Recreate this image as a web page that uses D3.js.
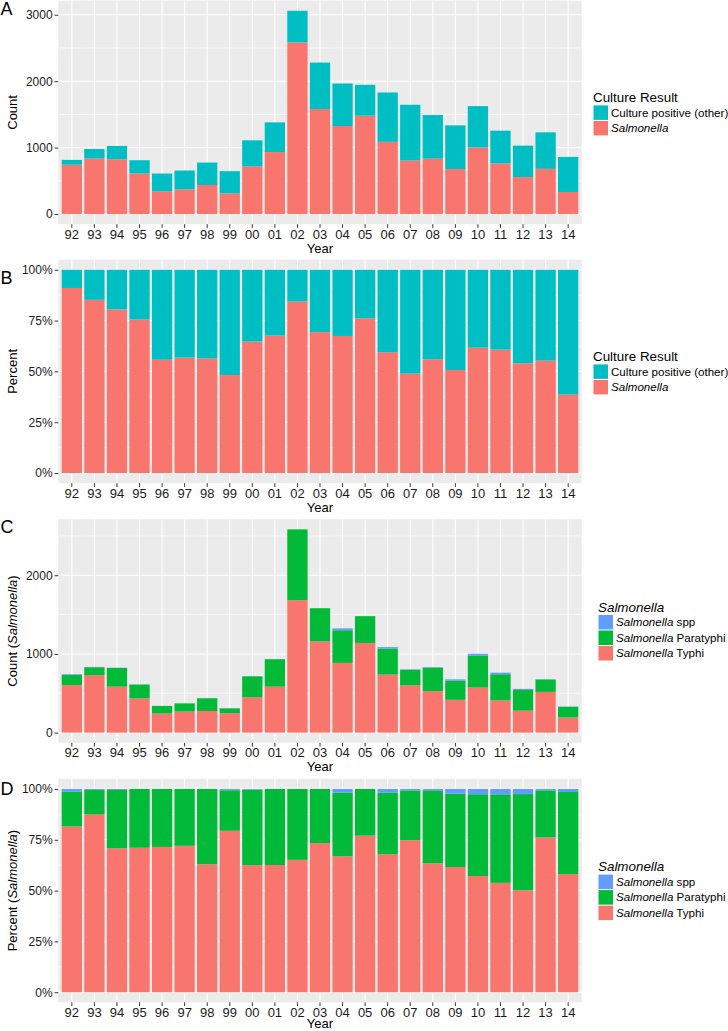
<!DOCTYPE html>
<html>
<head>
<meta charset="utf-8">
<script src="https://cdn.jsdelivr.net/npm/d3@7"></script>
<style>
  body { margin: 0; background: #fff; }
  svg { font-family: "Liberation Sans", Arial, Helvetica, sans-serif; }
</style>
</head>
<body>
<svg id="chart" width="728" height="1031"></svg>
<script>
// years on the x axis
var years = ['92', '93', '94', '95', '96', '97', '98', '99', '00', '01', '02',
  '03', '04', '05', '06', '07', '08', '09', '10', '11', '12', '13', '14'];

// panel A / B: culture results
var salmonella = [742, 835, 825, 612, 340, 372, 437, 311, 718, 933, 2583,
  1581, 1325, 1480, 1087, 805, 833, 677, 1002, 762, 556, 680, 332];
var otherPositive = [73, 145, 200, 198, 270, 283, 338, 334, 392, 447, 477,
  699, 640, 465, 743, 840, 657, 658, 623, 493, 474, 550, 528];

// panel C / D: salmonella serovars
var typhi = [605, 730, 584, 435, 243, 268, 275, 247, 449, 584, 1682,
  1160, 886, 1140, 738, 602, 528, 417, 573, 410, 279, 518, 193];
var paratyphi = [127, 101, 237, 177, 97, 104, 162, 62, 267, 349, 901,
  421, 415, 340, 329, 197, 297, 244, 403, 332, 263, 157, 134];
var spp = [10, 4, 4, 0, 0, 0, 0, 2, 2, 0, 0,
  0, 24, 0, 20, 6, 8, 16, 26, 20, 14, 5, 5];

var countTicks = [0, 1000, 2000, 3000];
var countMinor = [500, 1500, 2500];
var pctTicks = [0, 0.25, 0.5, 0.75, 1];
var pctMinor = [0.125, 0.375, 0.625, 0.875];

var colors = {
  salm: '#F8766D', other: '#00BFC4',
  typhi: '#F8766D', para: '#00BA38', spp: '#619CFF'
};

var svg = d3.select('#chart');
var left = 58.3, right = 581.7, ph = 223.6;

var x = d3.scaleBand()
  .domain(years)
  .range([left, right])
  .paddingInner(0.1)
  .paddingOuter(0.15);

var rowsA = years.map(function(yr, i) {
  return { year: yr, salm: salmonella[i], other: otherPositive[i] };
});
var rowsC = years.map(function(yr, i) {
  return { year: yr, typhi: typhi[i], para: paratyphi[i], spp: spp[i] };
});

function panel(cfg) {
  var g = svg.append('g');
  var top = cfg.top, bottom = cfg.top + ph;

  var stack = d3.stack().keys(cfg.keys);
  if (cfg.percent) stack.offset(d3.stackOffsetExpand);
  var series = stack(cfg.rows);

  var max = cfg.percent ? 1 : d3.max(series[series.length - 1], function(d) { return d[1]; });
  var pad = max * 0.05;
  var y = d3.scaleLinear().domain([-pad, max + pad]).range([bottom, top]);

  g.append('rect')
    .attr('x', left).attr('y', top)
    .attr('width', right - left).attr('height', ph)
    .attr('fill', '#EBEBEB');

  var minor = cfg.percent ? pctMinor : countMinor.filter(function(v) { return v < max + pad; });
  var major = cfg.percent ? pctTicks : countTicks.filter(function(v) { return v < max + pad; });

  g.selectAll('.minor').data(minor).enter().append('line')
    .attr('x1', left).attr('x2', right)
    .attr('y1', function(d) { return y(d); }).attr('y2', function(d) { return y(d); })
    .attr('stroke', '#fff').attr('stroke-width', 0.6);

  g.selectAll('.major').data(major).enter().append('line')
    .attr('x1', left).attr('x2', right)
    .attr('y1', function(d) { return y(d); }).attr('y2', function(d) { return y(d); })
    .attr('stroke', '#fff').attr('stroke-width', 1.1);

  g.selectAll('.vgrid').data(years).enter().append('line')
    .attr('x1', function(d) { return x(d) + x.bandwidth() / 2; })
    .attr('x2', function(d) { return x(d) + x.bandwidth() / 2; })
    .attr('y1', top).attr('y2', bottom)
    .attr('stroke', '#fff').attr('stroke-width', 1.1);

  g.selectAll('.layer').data(series).enter().append('g')
    .attr('fill', function(d) { return colors[d.key]; })
    .selectAll('rect').data(function(d) { return d; }).enter().append('rect')
      .attr('x', function(d) { return x(d.data.year); })
      .attr('width', x.bandwidth())
      .attr('y', function(d) { return y(d[1]); })
      .attr('height', function(d) { return Math.max(0, y(d[0]) - y(d[1])); });

  var yAxis = g.append('g')
    .attr('transform', 'translate(' + left + ',0)')
    .call(d3.axisLeft(y).tickValues(major).tickSize(3.7).tickPadding(2)
      .tickFormat(cfg.percent ? function(d) { return Math.round(d * 100) + '%'; } : d3.format('d')));
  yAxis.select('.domain').remove();
  yAxis.selectAll('line').attr('stroke', '#333');
  yAxis.selectAll('text').attr('fill', '#1a1a1a').style('font-size', '12px');

  var xAxis = g.append('g')
    .attr('transform', 'translate(0,' + bottom + ')')
    .call(d3.axisBottom(x).tickSize(3.7).tickPadding(1.5));
  xAxis.select('.domain').remove();
  xAxis.selectAll('line').attr('stroke', '#333');
  xAxis.selectAll('text').attr('fill', '#1a1a1a').style('font-size', '13px');

  // keep the last "Year" inside the page
  g.append('text')
    .attr('x', (left + right) / 2).attr('y', Math.min(bottom + 28.4, 1028.2))
    .attr('text-anchor', 'middle')
    .style('font-size', '13px')
    .text('Year');

  var yt = g.append('text')
    .attr('transform', 'translate(17,' + (top + ph / 2) + ') rotate(-90)')
    .attr('text-anchor', 'middle')
    .style('font-size', '13px');
  yt.append('tspan').text(cfg.yTitle[0]);
  if (cfg.yTitle[1]) {
    yt.append('tspan').text(' (');
    yt.append('tspan').style('font-style', 'italic').text(cfg.yTitle[1]);
    yt.append('tspan').text(')');
  }

  g.append('text')
    .attr('x', 0.5).attr('y', cfg.letterY)
    .style('font-size', '18px')
    .text(cfg.letter);

  // legend
  var lg = g.append('g')
    .attr('transform', 'translate(' + cfg.legend.x + ',' + (top + ph / 2 + cfg.legend.dy) + ')');
  lg.append('text')
    .attr('x', 0).attr('y', 0)
    .attr('dy', '0.35em')
    .style('font-size', '13.4px')
    .style('font-style', cfg.legend.italicTitle ? 'italic' : 'normal')
    .text(cfg.legend.title);

  var items = lg.selectAll('.item').data(cfg.legend.items).enter().append('g')
    .attr('transform', function(d, i) { return 'translate(0,' + (7.5 + i * 15.5) + ')'; });
  items.append('rect')
    .attr('x', 0.5).attr('y', 0.5)
    .attr('width', 14.5).attr('height', 14.5)
    .attr('fill', function(d) { return colors[d.key]; });
  var lt = items.append('text')
    .attr('x', 18).attr('y', 7.75)
    .attr('dy', '0.35em')
    .style('font-size', '11.6px');
  lt.append('tspan')
    .style('font-style', function(d) { return d.italic ? 'italic' : 'normal'; })
    .text(function(d) { return d.label; });
  lt.append('tspan')
    .text(function(d) { return d.rest || ''; });
}

var legendA = {
  x: 593, dy: -15, title: 'Culture Result', italicTitle: false,
  items: [
    { key: 'other', label: 'Culture positive (other)' },
    { key: 'salm', label: 'Salmonella', italic: true }
  ]
};
var legendC = {
  x: 598, dy: -24, title: 'Salmonella', italicTitle: true,
  items: [
    { key: 'spp', label: 'Salmonella', italic: true, rest: ' spp' },
    { key: 'para', label: 'Salmonella', italic: true, rest: ' Paratyphi' },
    { key: 'typhi', label: 'Salmonella', italic: true, rest: ' Typhi' }
  ]
};

panel({ top: 0.6, rows: rowsA, keys: ['salm', 'other'], percent: false,
  yTitle: ['Count'], letter: 'A', letterY: 15, legend: legendA });
panel({ top: 259.6, rows: rowsA, keys: ['salm', 'other'], percent: true,
  yTitle: ['Percent'], letter: 'B', letterY: 284, legend: legendA });
panel({ top: 519.2, rows: rowsC, keys: ['typhi', 'para', 'spp'], percent: false,
  yTitle: ['Count', 'Salmonella'], letter: 'C', letterY: 533, legend: legendC });
panel({ top: 778.8, rows: rowsC, keys: ['typhi', 'para', 'spp'], percent: true,
  yTitle: ['Percent', 'Salmonella'], letter: 'D', letterY: 795, legend: legendC });
</script>
</body>
</html>
